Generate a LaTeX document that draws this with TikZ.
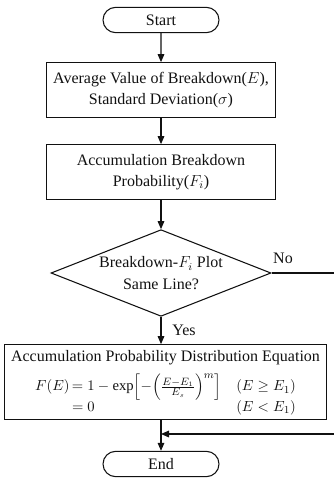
\documentclass[tikz,border=0pt]{standalone}
\usepackage{amsmath, amssymb}
\usepackage{fontspec}
\setmainfont{Liberation Serif}
\usepackage{tikz}
\usepackage{xcolor}
\usetikzlibrary{
  positioning, arrows.meta, shapes.geometric, shapes.misc,
}
\definecolor{cLine}{HTML}{111111}
\definecolor{cText}{HTML}{111111}

\begin{document}
\begin{tikzpicture}[x=0.75pt, y=-0.75pt,
    termnode/.style={draw=cLine, rounded rectangle, line width=0.8pt,
      minimum width=87pt, minimum height=19pt, inner sep=0pt,
      font=\fontsize{12}{14}\selectfont, text=cText},
    procbox/.style={draw=cLine, rectangle, line width=0.8pt,
      minimum width=172pt, minimum height=41pt, align=center,
      font=\fontsize{12}{16}\selectfont, text=cText},
    decide/.style={draw=cLine, diamond, aspect=2.6, line width=0.8pt,
      minimum width=165pt, minimum height=65pt, inner sep=0pt, align=center,
      font=\fontsize{12}{16}\selectfont, text=cText},
    flow/.style={-{Triangle[length=6pt, width=5pt]}, line width=0.8pt, draw=cLine},
    flowlabel/.style={font=\fontsize{12}{14}\selectfont, text=cText},
  ]
        \useasboundingbox (0,0) rectangle (333,478);
        % main column
        \node[termnode] (start) at (161, 20) {Start};
        \node[procbox] (avg) at (161, 90)
              {Average Value of Breakdown($E$),\\ Standard Deviation($\sigma$)};
        \node[procbox] (accum) at (161, 172)
              {Accumulation Breakdown\\ Probability($F_i$)};
        \node[decide] (check) at (161, 273)
              {Breakdown-$F_i$ Plot\\ Same Line?};
        % equation box: frame, title, then the formula
        \node[procbox, minimum width=241pt, minimum height=56pt] (eqn) at (165.5, 382) {};
        \node[flowlabel, below=1pt of eqn.north] (eqntitle)
              {Accumulation Probability Distribution Equation};
        \node[font=\fontsize{11}{12}\selectfont, text=cText, below=2pt of eqntitle, inner sep=1pt] (eqnbody)
              {$\begin{array}{@{}r@{\,}l@{\quad}l@{}}
                 F(E) & =1-\exp\Bigl[-\Bigl(\tfrac{E-E_1}{E_s}\Bigr)^{m}\Bigr] & (E\geq E_1)\\[2pt]
                      & =0 & (E<E_1)
               \end{array}$};
        \node[termnode] (finish) at (161, 464) {End};
        % connectors
        \draw[flow] (start) -- (avg);
        \draw[flow] (avg) -- (accum);
        \draw[flow] (accum) -- (check);
        \draw[flow] (check) -- (check |- eqn.north);
        \node[flowlabel] (yes) at (184, 330) {Yes};
        \draw[flow] (eqn.south -| finish) -- (finish.north);
        % no-branch loop, running off the right edge
        \node[flowlabel] (no) at (283, 258) {No};
        \coordinate (loopTop) at (350, 273);
        \coordinate (loopBot) at (350, 434);
        \coordinate (merge) at (161, 434);
        \draw[flow] (check.east) -- (loopTop) -- (loopBot) -- (merge);
      \end{tikzpicture}
\end{document}
